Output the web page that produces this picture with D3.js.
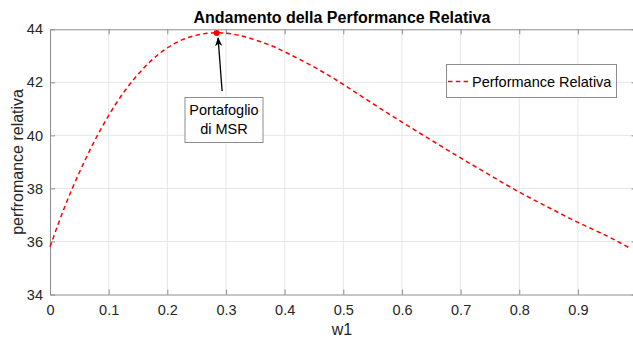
<!DOCTYPE html>
<html>
<head>
<meta charset="utf-8">
<script src="https://cdn.jsdelivr.net/npm/d3@7"></script>
<style>
  html, body { margin: 0; padding: 0; background: #fff; }
  svg { display: block; font-family: "Liberation Sans", Arial, sans-serif; }
</style>
</head>
<body>
<svg id="chart" width="633" height="338"></svg>
<script>
// Weight of asset 1 and the resulting relative performance
const w1 = [0, 0.025, 0.05, 0.075, 0.1, 0.125, 0.15, 0.175, 0.2, 0.225, 0.25, 0.275, 0.3,
  0.325, 0.35, 0.375, 0.4, 0.45, 0.5, 0.55, 0.6, 0.65, 0.7, 0.75, 0.8, 0.85, 0.9, 0.95, 0.99];
const performance = [35.8, 37.3, 38.6, 39.75, 40.75, 41.6, 42.3, 42.87, 43.3, 43.6, 43.78, 43.86, 43.85,
  43.76, 43.6, 43.4, 43.15, 42.58, 41.92, 41.2, 40.5, 39.82, 39.15, 38.5, 37.86, 37.28, 36.72, 36.2, 35.73];

// Maximum Sharpe ratio portfolio
const msrPoint = { w: 0.284, value: 43.86 };

const xTicks = [0, 0.1, 0.2, 0.3, 0.4, 0.5, 0.6, 0.7, 0.8, 0.9];
const yTicks = [34, 36, 38, 40, 42, 44];

const titleText = "Andamento della Performance Relativa";
const xLabel = "w1";
const yLabel = "perfromance relativa";
const legendLabel = "Performance Relativa";
const annotationLines = ["Portafoglio", "di MSR"];

const svg = d3.select("#chart");
const plotLeft = 50, plotRight = 636.6, plotTop = 29.3, plotBottom = 294.5;

const x = d3.scaleLinear().domain([0, 1]).range([plotLeft, plotRight]);
const y = d3.scaleLinear().domain([34, 44]).range([plotBottom, plotTop]);

const axisColor = "#8c8c8c";
const textColor = "#262626";
const labelSize = "14.5px";

// grid
const grid = svg.append("g");
grid.selectAll(".gx").data(xTicks.filter(d => d > 0)).join("line")
  .attr("x1", d => x(d)).attr("x2", d => x(d))
  .attr("y1", plotTop).attr("y2", plotBottom)
  .attr("stroke", "#e6e6e6").attr("stroke-width", 1);
grid.selectAll(".gy").data(yTicks.filter(d => d > 34 && d < 44)).join("line")
  .attr("x1", plotLeft).attr("x2", plotRight)
  .attr("y1", d => y(d)).attr("y2", d => y(d))
  .attr("stroke", "#e6e6e6").attr("stroke-width", 1);

// axes with inward ticks
const tickLen = 5;
const xAxis = d3.axisBottom(x).tickValues(xTicks).tickFormat(d3.format("~g"))
  .tickSizeInner(-tickLen).tickSizeOuter(0).tickPadding(10);
const yAxis = d3.axisLeft(y).tickValues(yTicks).tickFormat(d3.format("d"))
  .tickSizeInner(-tickLen).tickSizeOuter(0).tickPadding(7);
const xTop = d3.axisTop(x).tickValues(xTicks).tickFormat("")
  .tickSizeInner(-tickLen).tickSizeOuter(0);
const yRight = d3.axisRight(y).tickValues(yTicks).tickFormat("")
  .tickSizeInner(-tickLen).tickSizeOuter(0);

function styleAxis(g) {
  g.select(".domain").attr("stroke", axisColor).attr("stroke-width", 1);
  g.selectAll(".tick line").attr("stroke", axisColor).attr("stroke-width", 1);
  g.selectAll(".tick text").attr("fill", textColor)
    .style("font-family", "'Liberation Sans', Arial, sans-serif").style("font-size", labelSize);
}

svg.append("g").attr("transform", `translate(0,${plotBottom})`).call(xAxis).call(styleAxis);
svg.append("g").attr("transform", `translate(${plotLeft},0)`).call(yAxis).call(styleAxis);
svg.append("g").attr("transform", `translate(0,${plotTop})`).call(xTop).call(styleAxis);
svg.append("g").attr("transform", `translate(${plotRight},0)`).call(yRight).call(styleAxis);

// curve
const line = d3.line().x((d, i) => x(w1[i])).y(d => y(d)).curve(d3.curveNatural);
svg.append("path").datum(performance)
  .attr("d", line)
  .attr("fill", "none").attr("stroke", "#ff0000").attr("stroke-width", 1.5)
  .attr("stroke-dasharray", "4.5,3.3");

// MSR marker
svg.append("circle")
  .attr("cx", x(msrPoint.w)).attr("cy", y(msrPoint.value)).attr("r", 3)
  .attr("fill", "#ff0000");

// annotation arrow
const defs = svg.append("defs");
defs.append("marker").attr("id", "arrowhead")
  .attr("viewBox", "0 0 10 10").attr("refX", 9).attr("refY", 5)
  .attr("markerWidth", 7).attr("markerHeight", 7).attr("orient", "auto")
  .append("path").attr("d", "M0,1 L10,5 L0,9 L3,5 Z").attr("fill", "#000");
svg.append("line")
  .attr("x1", x(msrPoint.w) + 5.5).attr("y1", 91)
  .attr("x2", x(msrPoint.w) + 1.5).attr("y2", y(msrPoint.value) + 5)
  .attr("stroke", "#000").attr("stroke-width", 1.3)
  .attr("marker-end", "url(#arrowhead)");

// annotation text box
const boxX = 185, boxY = 97.5, boxW = 78, boxH = 45;
svg.append("rect").attr("x", boxX).attr("y", boxY).attr("width", boxW).attr("height", boxH)
  .attr("fill", "#fff").attr("stroke", "#8c8c8c").attr("stroke-width", 1);
svg.append("g").selectAll("text").data(annotationLines).join("text")
  .attr("x", boxX + boxW / 2).attr("y", (d, i) => boxY + 17.5 + i * 18.5)
  .attr("text-anchor", "middle").attr("fill", "#000")
  .style("font-size", labelSize).text(d => d);

// legend
const lg = svg.append("g");
lg.append("rect").attr("x", 446.5).attr("y", 64.5).attr("width", 170).attr("height", 33)
  .attr("fill", "#fff").attr("stroke", "#8c8c8c").attr("stroke-width", 1);
lg.append("line").attr("x1", 448).attr("x2", 470).attr("y1", 81.5).attr("y2", 81.5)
  .attr("stroke", "#ff0000").attr("stroke-width", 1.5).attr("stroke-dasharray", "4.5,3.3");
lg.append("text").attr("x", 472).attr("y", 87).attr("fill", "#000")
  .style("font-size", labelSize).text(legendLabel);

// title and axis labels
svg.append("text").attr("x", 342).attr("y", 22.7).attr("text-anchor", "middle")
  .attr("fill", "#000").style("font-size", "16px").style("font-weight", "bold").text(titleText);
svg.append("text").attr("x", 342).attr("y", 334.5).attr("text-anchor", "middle")
  .attr("fill", textColor).style("font-size", "16px").text(xLabel);
svg.append("text").attr("transform", `translate(23,${(plotTop + plotBottom) / 2}) rotate(-90)`)
  .attr("text-anchor", "middle").attr("fill", textColor)
  .style("font-size", "16px").text(yLabel);
</script>
</body>
</html>
